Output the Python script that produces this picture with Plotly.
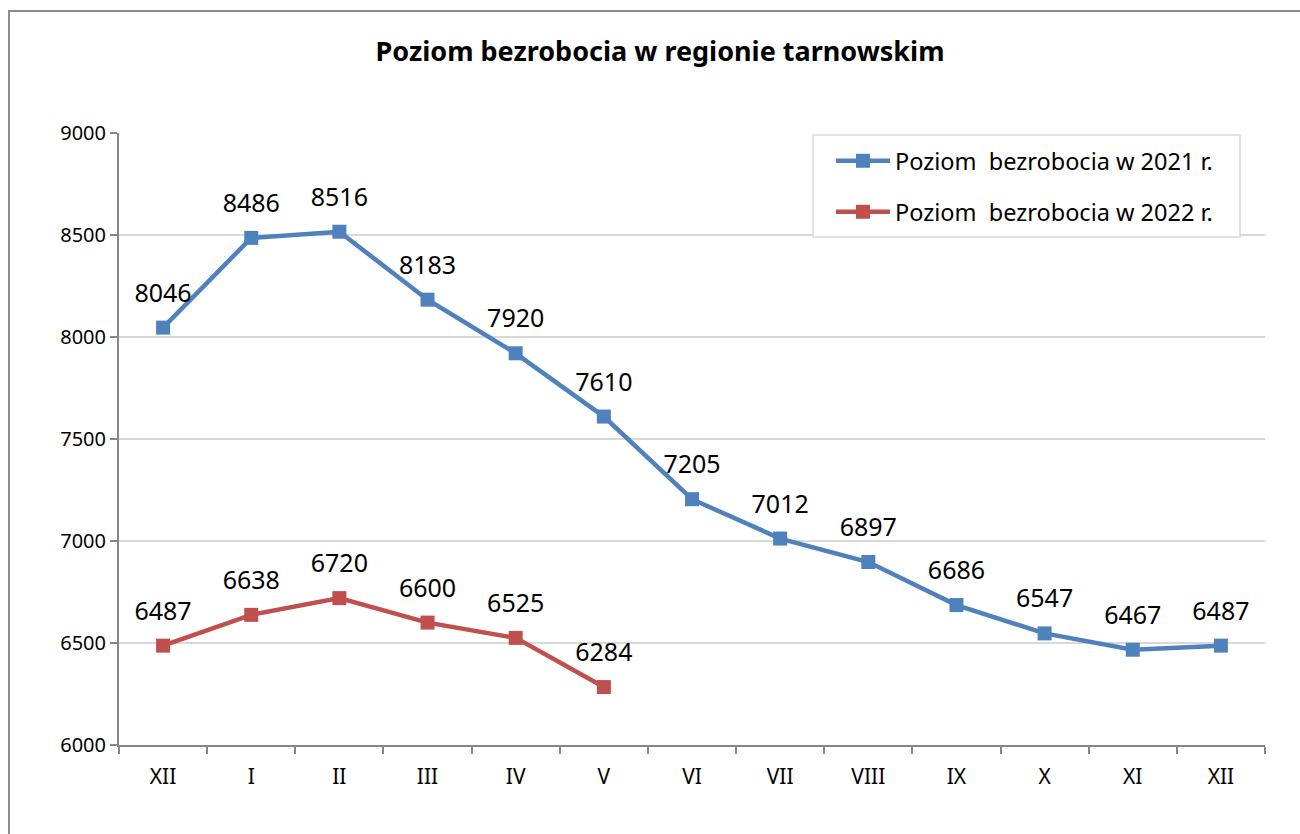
import plotly.graph_objects as go

months = ["XII", "I", "II", "III", "IV", "V", "VI", "VII", "VIII", "IX", "X", "XI", "XII"]
values_2021 = [8046, 8486, 8516, 8183, 7920, 7610, 7205, 7012, 6897, 6686, 6547, 6467, 6487]
values_2022 = [6487, 6638, 6720, 6600, 6525, 6284]
name_2021 = "Poziom\u00a0 bezrobocia w 2021 r."
name_2022 = "Poziom\u00a0 bezrobocia w 2022 r."
title = "Poziom bezrobocia w regionie tarnowskim"

FONT = "Noto Sans, Open Sans, sans-serif"
BLUE = "#4f81bd"
RED = "#c0504d"
x_pos = list(range(len(months)))

L, R, T, B = 119, 35, 133, 89
W, H = 1300, 834
pw, ph = W - L - R, H - T - B


def px_x(px):
    return (px - L) / pw


def px_y(py):
    return (H - B - py) / ph


fig = go.Figure()
series = [
    (values_2021, name_2021, BLUE, "legend"),
    (values_2022, name_2022, RED, "legend2"),
]
for vals, name, color, leg in series:
    xs = x_pos[:len(vals)]
    fig.add_trace(go.Scatter(
        x=xs, y=vals, name=name, mode="lines+markers",
        line=dict(color=color, width=4.5),
        marker=dict(symbol="square", size=14, color=color),
        cliponaxis=False, legend=leg, hoverinfo="skip",
    ))
    # data labels (invisible larger markers push the labels further up)
    fig.add_trace(go.Scatter(
        x=xs, y=vals, mode="markers+text", showlegend=False,
        text=[str(v) for v in vals], textposition="top center",
        textfont=dict(size=25, color="black", family=FONT),
        marker=dict(size=30, color="rgba(0,0,0,0)"),
        cliponaxis=False, hoverinfo="skip",
    ))

legend_common = dict(xanchor="left", yanchor="middle", bgcolor="rgba(0,0,0,0)",
                     borderwidth=0, font=dict(size=23.5, family=FONT), itemwidth=54)

fig.update_layout(
    width=W, height=H,
    margin=dict(l=L, r=R, t=T, b=B),
    paper_bgcolor="white", plot_bgcolor="white",
    font=dict(family=FONT, size=19, color="black"),
    title=dict(text="<b>" + title + "</b>", x=660 / W, xanchor="center",
               y=1 - 52 / H, yanchor="middle", font=dict(size=27, family=FONT)),
    showlegend=True,
    legend=dict(x=px_x(831), y=px_y(161), **legend_common),
    legend2=dict(x=px_x(831), y=px_y(212), **legend_common),
    xaxis=dict(range=[-0.5, len(months) - 0.5], tickvals=x_pos, ticktext=months,
               ticks="", showgrid=False, zeroline=False,
               showline=True, linecolor="#868686", linewidth=2,
               tickfont=dict(size=21), ticklabelstandoff=12,
               minor=dict(tickvals=[i - 0.5 for i in range(len(months) + 1)],
                          ticks="outside", ticklen=7, tickcolor="#868686", tickwidth=2,
                          showgrid=False)),
    yaxis=dict(range=[6000, 9000], dtick=500, tick0=6000, ticks="outside",
               ticklen=7, tickcolor="#868686", tickwidth=2,
               showgrid=True, gridcolor="#d9d9d9", gridwidth=1.5, zeroline=False,
               showline=True, linecolor="#868686", linewidth=2,
               tickfont=dict(size=20)),
    shapes=[
        dict(type="rect", xref="paper", yref="paper",
             x0=px_x(9), y0=px_y(H + 20), x1=px_x(W + 20), y1=px_y(11),
             line=dict(color="#8c8c8c", width=2), layer="below"),
        dict(type="rect", xref="paper", yref="paper",
             x0=px_x(813), y0=px_y(237), x1=px_x(1240), y1=px_y(135),
             line=dict(color="#d9d9d9", width=1.5), fillcolor="white", layer="above"),
    ],
)

fig.write_html("out.html", config={"displayModeBar": False},
               post_script="document.body.style.margin='0';")
